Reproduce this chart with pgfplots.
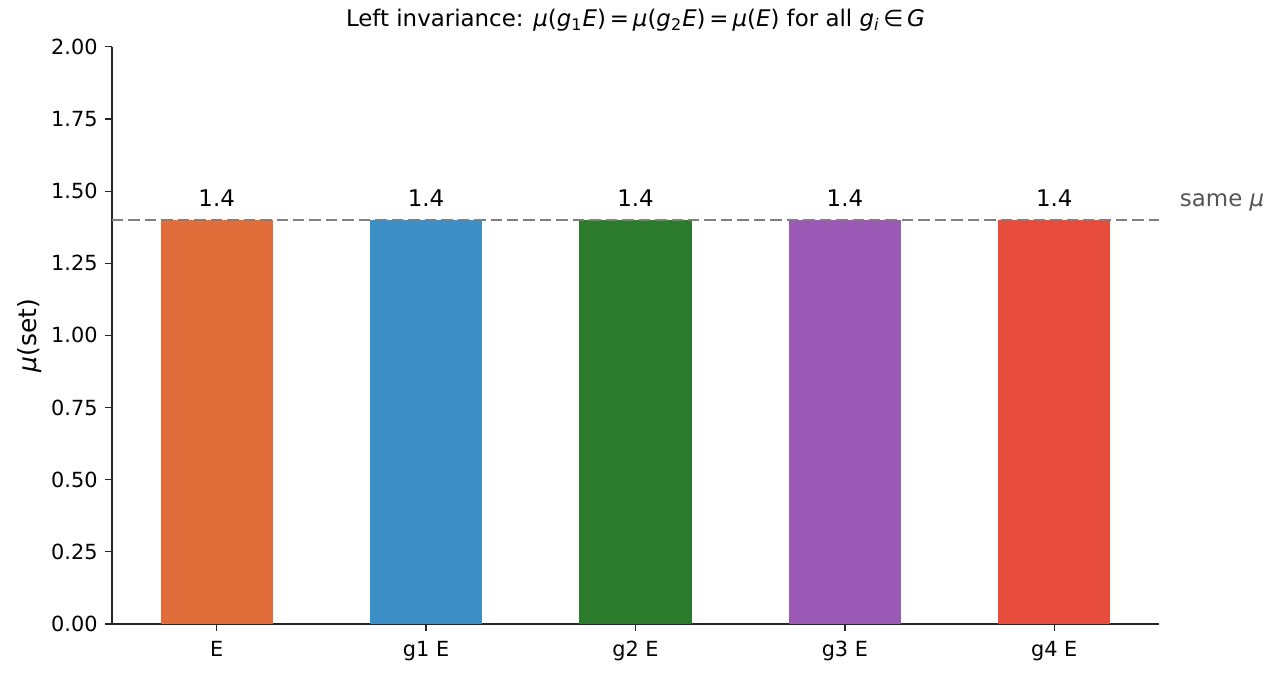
\documentclass[border=0pt]{standalone}
\usepackage{pgfplots}
\pgfplotsset{compat=1.18}
\usepackage{fontspec}
\setmainfont{DejaVu Sans}
\definecolor{cE}{HTML}{E06D3A}
\definecolor{cA}{HTML}{3C8FC7}
\definecolor{cB}{HTML}{2C7A2C}
\definecolor{cC}{HTML}{9B59B6}
\definecolor{cD}{HTML}{E74C3C}
\definecolor{gtxt}{HTML}{555555}
\begin{document}
\begin{tikzpicture}
\useasboundingbox (-53.76pt,-24pt) rectangle (560.2pt,299.5pt);
\begin{axis}[
  scale only axis,
  width=502.6pt, height=277pt,
  xmin=-0.5, xmax=4.5, ymin=0, ymax=2,
  axis x line*=bottom, axis y line*=left,
  axis line style={-, line width=0.6pt, black!85},
  xtick={0,1,2,3,4},
  xticklabels={E, g1 E, g2 E, g3 E, g4 E},
  xticklabel style={yshift=-1.5pt},
  ytick={0,0.25,...,2},
  yticklabel style={/pgf/number format/fixed, /pgf/number format/fixed zerofill, /pgf/number format/precision=2},
  /pgf/number format/assume math mode=true,
  tick style={black!85, line width=0.6pt},
  tick align=outside,
  major tick length=3.4pt,
  ticklabel style={font=\fontsize{10}{12}\selectfont},
  ylabel={\textit{μ}(set)},
  ylabel style={font=\fontsize{12}{14}\selectfont, yshift=-2.5pt},
  title={Left invariance: \textit{μ}(\textit{g}\textsubscript{1}\textit{E})\,=\,\textit{μ}(\textit{g}\textsubscript{2}\textit{E})\,=\,\textit{μ}(\textit{E}) for all \textit{g}\textsubscript{\textit{i}}\,∈\,\textit{G}},
  title style={font=\fontsize{11}{13}\selectfont, yshift=-2pt},
  clip=false,
  ybar, bar width=0.535, bar shift=0pt,
  nodes near coords,
  nodes near coords style={font=\fontsize{11}{13}\selectfont, /pgf/number format/fixed, /pgf/number format/precision=1, yshift=3pt},
  every axis plot/.append style={draw=none},
]
\addplot[fill=cE] coordinates {(0,1.4)};
\addplot[fill=cA] coordinates {(1,1.4)};
\addplot[fill=cB] coordinates {(2,1.4)};
\addplot[fill=cC] coordinates {(3,1.4)};
\addplot[fill=cD] coordinates {(4,1.4)};
\addplot[sharp plot, draw=gray, line width=1pt, dash pattern=on 5.5pt off 2.4pt, nodes near coords={}, forget plot] coordinates {(-0.5,1.4) (4.5,1.4)};
\node[anchor=west, text=gtxt, font=\fontsize{11}{13}\selectfont] at (axis cs:4.565,1.462) {same \textit{μ}};
\end{axis}
\end{tikzpicture}
\end{document}
